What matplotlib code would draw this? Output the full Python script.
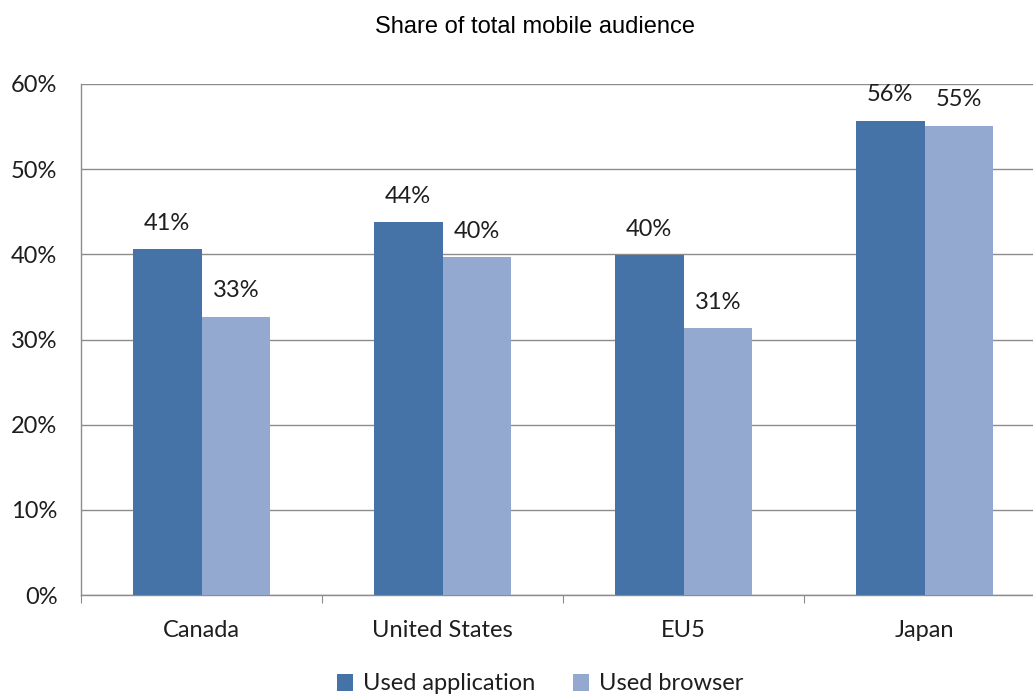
import numpy as np
import matplotlib.pyplot as plt
from matplotlib.ticker import FixedLocator, PercentFormatter

# data (percent of mobile audience)
countries = ['Canada', 'United States', 'EU5', 'Japan']
used_app = [40.6, 43.8, 39.9, 55.7]
used_browser = [32.7, 39.7, 31.3, 55.1]
series_names = ['Used application', 'Used browser']

col_app = '#4572A7'
col_browser = '#93A9CF'
grid_col = '#8C8C8C'
txt_col = '#1E1E1E'

plt.rcParams['font.family'] = ['Lato', 'DejaVu Sans']

fig = plt.figure(figsize=(10.33, 6.97), dpi=100)
ax = fig.add_axes([81 / 1033, 102 / 697, 952 / 1033, 511 / 697])

x = np.arange(len(countries))
w = 0.286
b1 = ax.bar(x - w / 2, used_app, w, color=col_app, label=series_names[0], zorder=3)
b2 = ax.bar(x + w / 2, used_browser, w, color=col_browser, label=series_names[1], zorder=3)

# value labels above each bar
for bars in (b1, b2):
    for r in bars:
        v = r.get_height()
        ax.annotate(f'{v:.0f}%', (r.get_x() + r.get_width() / 2, v),
                    xytext=(0, 11), textcoords='offset points',
                    ha='center', va='bottom', fontsize=17, color=txt_col)

ax.set_ylim(0, 60)
ax.set_xlim(-0.5, 3.45)
ax.set_yticks(np.arange(0, 61, 10))
ax.yaxis.set_major_formatter(PercentFormatter(decimals=0))
ax.tick_params(axis='y', length=0, labelsize=17, pad=17, labelcolor=txt_col)
ax.yaxis.grid(True, color=grid_col, linewidth=1)
ax.set_axisbelow(True)

# category boundaries as tick marks, names centred between them
ax.xaxis.set_major_locator(FixedLocator(np.arange(-0.5, 4, 1.0)))
ax.xaxis.set_major_formatter(plt.NullFormatter())
ax.xaxis.set_minor_locator(FixedLocator(x))
ax.set_xticklabels(countries, minor=True)
ax.tick_params(axis='x', which='major', length=6, color=grid_col, direction='out')
ax.tick_params(axis='x', which='minor', length=0, labelsize=17, pad=18, labelcolor=txt_col)

for s in ('top', 'right'):
    ax.spines[s].set_visible(False)
for s in ('left', 'bottom'):
    ax.spines[s].set_color(grid_col)
    ax.spines[s].set_linewidth(1)

fig.text(535 / 1033, 1 - 27 / 697, 'Share of total mobile audience',
         ha='center', va='center', fontsize=17, color='black',
         family=['Liberation Sans', 'DejaVu Sans'])

fig.legend(loc='center', bbox_to_anchor=(540 / 1033, 1 - 684 / 697), ncol=2,
           frameon=False, fontsize=17, handlelength=0.7, handleheight=0.7,
           handletextpad=0.4, columnspacing=1.6, labelcolor=txt_col)

fig.savefig('out.png', dpi=100)
